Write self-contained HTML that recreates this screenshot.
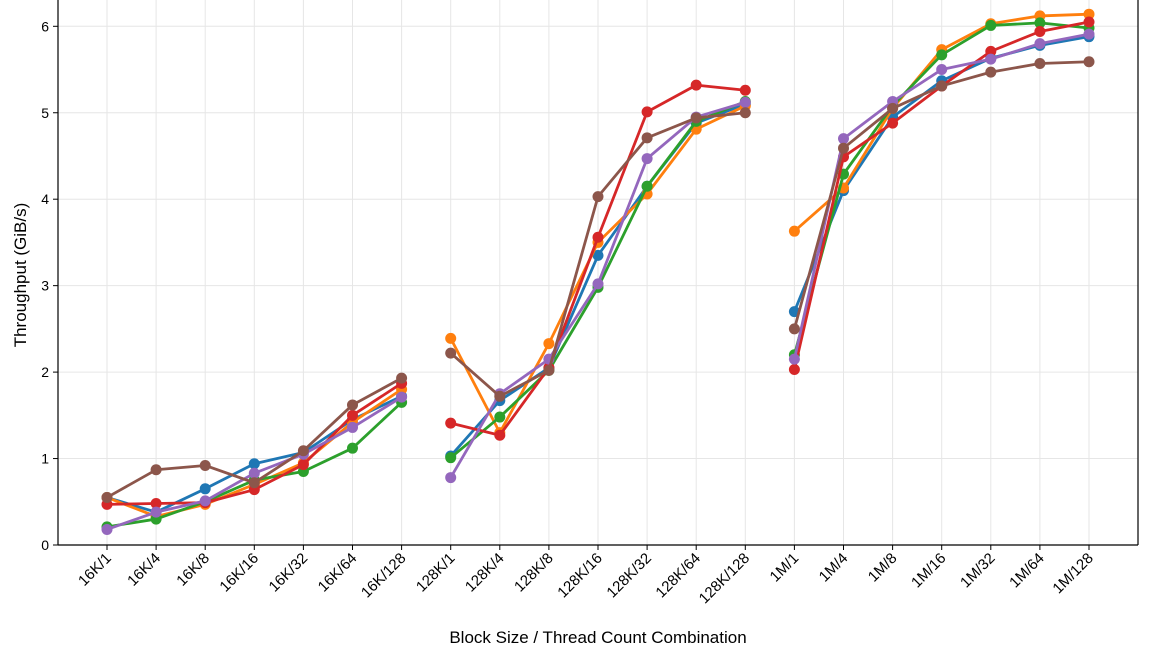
<!DOCTYPE html>
<html><head><meta charset="utf-8"><style>
body{margin:0;background:#fff;}
svg{display:block;font-family:"Liberation Sans","DejaVu Sans",sans-serif;}
</style></head><body>
<svg id="chart" width="1170" height="663" viewBox="0 0 1170 663" xmlns="http://www.w3.org/2000/svg">
<g id="grid"></g>
<g id="series"></g>
<g id="axes"></g>
</svg>
<script>
const categories=["16K/1","16K/4","16K/8","16K/16","16K/32","16K/64","16K/128","128K/1","128K/4","128K/8","128K/16","128K/32","128K/64","128K/128","1M/1","1M/4","1M/8","1M/16","1M/32","1M/64","1M/128"];
const groupSize=7;
const yTicks=[0,1,2,3,4,5,6];
const colors=["#1f77b4","#ff7f0e","#2ca02c","#d62728","#9467bd","#8c564b"];
const seriesBlue=[0.55,0.38,0.65,0.94,1.07,1.45,1.72, 1.03,1.67,2.05,3.35,4.15,4.88,5.10, 2.70,4.10,4.95,5.37,5.63,5.78,5.88];
const seriesOrange=[0.55,0.33,0.47,0.70,0.95,1.42,1.80, 2.39,1.30,2.33,3.50,4.06,4.81,5.08, 3.63,4.13,5.05,5.73,6.03,6.12,6.14];
const seriesGreen=[0.21,0.30,0.50,0.75,0.85,1.12,1.65, 1.01,1.48,2.02,2.98,4.15,4.90,5.13, 2.20,4.29,5.08,5.67,6.01,6.04,5.98];
const seriesRed=[0.47,0.48,0.49,0.64,0.93,1.50,1.87, 1.41,1.27,2.05,3.56,5.01,5.32,5.26, 2.03,4.49,4.88,5.31,5.71,5.94,6.05];
const seriesPurple=[0.18,0.38,0.51,0.83,1.05,1.36,1.71, 0.78,1.75,2.15,3.02,4.47,4.95,5.12, 2.15,4.70,5.13,5.50,5.62,5.80,5.91];
const seriesBrown=[0.55,0.87,0.92,0.72,1.09,1.62,1.93, 2.22,1.72,2.02,4.03,4.71,4.94,5.00, 2.50,4.59,5.05,5.31,5.47,5.57,5.59];
const allSeries=[seriesBlue,seriesOrange,seriesGreen,seriesRed,seriesPurple,seriesBrown];
const seriesNames=["blue","orange","green","red","purple","brown"];

const NS="http://www.w3.org/2000/svg";
const L=58,R=1138,B=545,T=-10;
const x0=107,dx=49.1;
function xs(i){return x0+i*dx;}
function ys(v){return B-v*86.45;}
function mk(tag,attrs,parent){const e=document.createElementNS(NS,tag);for(const k in attrs)e.setAttribute(k,attrs[k]);parent.appendChild(e);return e;}
const grid=document.getElementById('grid'),ser=document.getElementById('series'),axes=document.getElementById('axes');
categories.forEach((c,i)=>{const l=mk('line',{x1:xs(i),x2:xs(i),y1:T,y2:B,stroke:'#e6e6e6','stroke-width':1},grid);

});
yTicks.forEach(v=>{const l=mk('line',{x1:L,x2:R,y1:ys(v),y2:ys(v),stroke:'#e6e6e6','stroke-width':1},grid);

});
allSeries.forEach((s,si)=>{
  const g=mk('g',{},ser);
  
  
  for(let gs=0;gs<categories.length;gs+=groupSize){
    let d='';
    for(let i=gs;i<gs+groupSize;i++){d+=(i===gs?'M':'L')+xs(i)+','+ys(s[i]);}
    const p=mk('path',{d:d,fill:'none',stroke:colors[si],'stroke-width':2.8,'stroke-linejoin':'round'},g);
    
    
  }
  s.forEach((v,i)=>{const c=mk('circle',{cx:xs(i),cy:ys(v),r:5.5,fill:colors[si]},g);
  
  });
});
let a=mk('line',{x1:L,x2:L,y1:T,y2:B,stroke:'#000','stroke-width':1.2},axes);


a=mk('line',{x1:R,x2:R,y1:T,y2:B,stroke:'#000','stroke-width':1.2},axes);


a=mk('line',{x1:L,x2:R,y1:B,y2:B,stroke:'#000','stroke-width':1.2},axes);


yTicks.forEach(v=>{mk('line',{x1:L-5,x2:L,y1:ys(v),y2:ys(v),stroke:'#000'},axes);
const t=mk('text',{x:L-9,y:ys(v)+5,'text-anchor':'end','font-size':14,fill:'#000'},axes);t.textContent=v;

});
categories.forEach((c,i)=>{mk('line',{x1:xs(i),x2:xs(i),y1:B,y2:B+5,stroke:'#000'},axes);
const tx=xs(i)+5,ty=B+14;
const t=mk('text',{x:tx,y:ty,'text-anchor':'end','font-size':15,fill:'#000',transform:'rotate(-45 '+tx+' '+ty+')'},axes);t.textContent=c;

});
let t=mk('text',{x:598,y:643,'text-anchor':'middle','font-size':17,fill:'#000'},axes);t.textContent='Block Size / Thread Count Combination';


t=mk('text',{x:26,y:275,'text-anchor':'middle','font-size':17,fill:'#000',transform:'rotate(-90 26 275)'},axes);t.textContent='Throughput (GiB/s)';


</script>
</body></html>
